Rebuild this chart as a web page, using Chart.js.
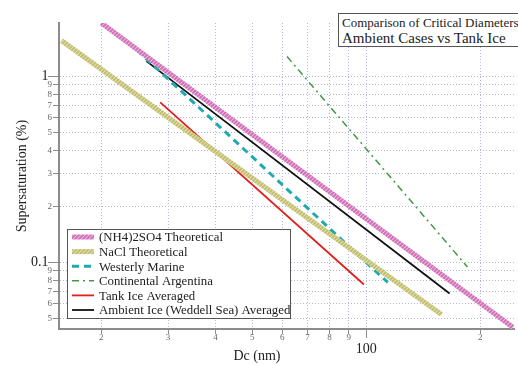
<!DOCTYPE html>
<html>
<head>
<meta charset="utf-8">
<script src="https://cdn.jsdelivr.net/npm/chart.js@4.4.1/dist/chart.umd.min.js"></script>
<style>
  html, body { margin: 0; padding: 0; background: #fff; }
  #wrap { position: relative; width: 518px; height: 365px; overflow: hidden; }
  #titleBox {
    position: absolute; left: 338px; top: 13px; width: 182px; height: 34px;
    border: 1px solid #555; background: #fff; padding-left: 3px; box-sizing: border-box;
    font-family: "Liberation Serif", serif; color: #222; line-height: 1; white-space: nowrap;
  }
  #titleBox .l1 { font-size: 13px; margin-top: 2px; }
  #titleBox .l2 { font-size: 15px; margin-top: 2px; }
</style>
</head>
<body>
<div id="wrap">
  <canvas id="chart" width="518" height="365"></canvas>
  <div id="titleBox"><div class="l1">Comparison of Critical Diameters</div><div class="l2">Ambient Cases vs Tank Ice</div></div>
</div>
<script>
const xTitle = 'Dc (nm)';
const yTitle = 'Supersaturation (%)';

const seriesNames = [
  '(NH4)2SO4 Theoretical',
  'NaCl Theoretical',
  'Westerly Marine',
  'Continental Argentina',
  'Tank Ice Averaged',
  'Ambient Ice (Weddell Sea) Averaged'
];

// critical diameter (nm) / supersaturation (%) end points
const nh4Dc = [20, 244];
const nh4Ss = [1.94, 0.0447];
const naclDc = [15.7, 158];
const naclSs = [1.56, 0.0524];
const westerlyDc = [24.8, 114];
const westerlySs = [1.39, 0.078];
const continentalDc = [61.8, 185];
const continentalSs = [1.28, 0.0945];
const tankDc = [28.6, 98.6];
const tankSs = [0.725, 0.076];
const ambientDc = [26.3, 166];
const ambientSs = [1.21, 0.068];

const xTickValues = [20, 30, 40, 50, 60, 70, 80, 90, 100, 200];
const xTickLabels = ['2', '3', '4', '5', '6', '7', '8', '9', '100', '2'];
const yTickValues = [0.05, 0.06, 0.07, 0.08, 0.09, 0.1, 0.2, 0.3, 0.4, 0.5, 0.6, 0.7, 0.8, 0.9, 1];
const yTickLabels = ['5', '6', '7', '8', '9', '0.1', '2', '3', '4', '5', '6', '7', '8', '9', '1'];
const xMajor = [100];
const yMajor = [0.1, 1];

const SERIF = '"Liberation Serif", "Times New Roman", serif';

function stripes(base, light) {
  const c = document.createElement('canvas');
  c.width = 4; c.height = 4;
  const g = c.getContext('2d');
  g.fillStyle = base;
  g.fillRect(0, 0, 4, 4);
  g.strokeStyle = light;
  g.lineWidth = 1.2;
  g.beginPath();
  g.moveTo(-1, 5); g.lineTo(5, -1);
  g.moveTo(-1, 1); g.lineTo(1, -1);
  g.moveTo(3, 5); g.lineTo(5, 3);
  g.stroke();
  return g.createPattern(c, 'repeat');
}

const toPoints = (xs, ys) => xs.map((x, i) => ({ x: x, y: ys[i] }));

const datasets = [
  { label: seriesNames[0], data: toPoints(nh4Dc, nh4Ss), borderColor: stripes('#cd6cb4', '#efb6de'), borderWidth: 5 },
  { label: seriesNames[1], data: toPoints(naclDc, naclSs), borderColor: stripes('#bfbb6c', '#e3e0ac'), borderWidth: 5 },
  { label: seriesNames[2], data: toPoints(westerlyDc, westerlySs), borderColor: '#1fa9b0', borderWidth: 3, borderDash: [7, 5] },
  { label: seriesNames[3], data: toPoints(continentalDc, continentalSs), borderColor: '#3f9a40', borderWidth: 1.5, borderDash: [7, 4, 2, 4] },
  { label: seriesNames[4], data: toPoints(tankDc, tankSs), borderColor: '#e0201c', borderWidth: 1.8 },
  { label: seriesNames[5], data: toPoints(ambientDc, ambientSs), borderColor: '#111111', borderWidth: 1.8 }
].map(d => Object.assign({ showLine: true, pointRadius: 0, fill: false, borderCapStyle: 'butt' }, d));

// major ticks, x axis title and the boxed legend
const extras = {
  id: 'extras',
  afterDraw(chart) {
    const ctx = chart.ctx;
    const area = chart.chartArea;
    const xs = chart.scales.x, ys = chart.scales.y;
    ctx.save();
    ctx.strokeStyle = '#8c8c8c';
    ctx.lineWidth = 1;
    ctx.beginPath();
    yMajor.forEach(v => {
      const py = Math.round(ys.getPixelForValue(v)) + 0.5;
      ctx.moveTo(area.left - 11, py); ctx.lineTo(area.left, py);
    });
    xMajor.forEach(v => {
      const px = Math.round(xs.getPixelForValue(v)) + 0.5;
      ctx.moveTo(px, area.bottom); ctx.lineTo(px, area.bottom + 9);
    });
    ctx.stroke();

    ctx.fillStyle = '#222';
    ctx.font = '14px ' + SERIF;
    ctx.textAlign = 'center';
    ctx.textBaseline = 'middle';
    ctx.fillText(xTitle, 257, 356);

    // legend
    const lx = 67, ly = 229, lw = 223, lh = 89, row = 14.6;
    ctx.fillStyle = '#fff';
    ctx.fillRect(lx, ly, lw, lh);
    ctx.strokeStyle = '#555';
    ctx.strokeRect(lx + 0.5, ly + 0.5, lw, lh);
    ctx.textAlign = 'left';
    ctx.font = '12.8px ' + SERIF;
    chart.data.datasets.forEach((ds, i) => {
      const cy = ly + 8 + i * row;
      ctx.save();
      ctx.strokeStyle = ds.borderColor;
      ctx.lineWidth = ds.borderWidth;
      ctx.setLineDash(ds.borderDash || []);
      ctx.beginPath();
      ctx.moveTo(lx + 5, cy); ctx.lineTo(lx + 27, cy);
      ctx.stroke();
      ctx.restore();
      ctx.fillStyle = '#222';
      ctx.fillText(ds.label, lx + 32, cy + 1);
    });
    ctx.restore();
  }
};

new Chart(document.getElementById('chart'), {
  type: 'scatter',
  data: { datasets: datasets },
  plugins: [extras],
  options: {
    responsive: false,
    animation: false,
    devicePixelRatio: 1,
    layout: { padding: { top: 23, right: 4, left: 0, bottom: 0 } },
    plugins: { legend: { display: false }, tooltip: { enabled: false } },
    scales: {
      x: {
        type: 'logarithmic',
        min: 15.46,
        max: 245.5,
        afterFit(scale) { scale.height = 36; },
        afterBuildTicks(scale) { scale.ticks = xTickValues.map(v => ({ value: v })); },
        border: { display: true, color: '#8c8c8c', width: 2, dash: [1, 2] },
        grid: { color: '#b4b4de', lineWidth: 1, tickLength: 5, tickColor: '#8c8c8c', drawOnChartArea: true },
        ticks: {
          autoSkip: false,
          maxRotation: 0,
          padding: 0,
          callback: (v, i) => xTickLabels[i],
          color: c => xMajor.includes(c.tick && c.tick.value) ? '#222' : '#666',
          font: c => xMajor.includes(c.tick && c.tick.value)
            ? { family: SERIF, size: 14, lineHeight: '30px' }
            : { family: SERIF, size: 9, lineHeight: '8px' }
        },
        title: { display: false }
      },
      y: {
        type: 'logarithmic',
        min: 0.0438,
        max: 1.94,
        afterFit(scale) { scale.width = 59; },
        afterBuildTicks(scale) { scale.ticks = yTickValues.map(v => ({ value: v })); },
        border: { display: true, color: '#8c8c8c', width: 2, dash: [1, 2] },
        grid: { color: '#b4b4de', lineWidth: 1, tickLength: 6, tickColor: '#8c8c8c' },
        ticks: {
          autoSkip: false,
          padding: 1,
          callback: (v, i) => yMajor.includes(yTickValues[i]) ? yTickLabels[i] + ' ' : yTickLabels[i],
          color: c => yMajor.includes(c.tick && c.tick.value) ? '#222' : '#666',
          font: c => yMajor.includes(c.tick && c.tick.value)
            ? { family: SERIF, size: 14 }
            : { family: SERIF, size: 9 }
        },
        title: {
          display: true,
          text: yTitle,
          color: '#222',
          font: { family: SERIF, size: 14 },
          padding: { top: 14, bottom: 0 }
        }
      }
    }
  }
});
</script>
</body>
</html>
